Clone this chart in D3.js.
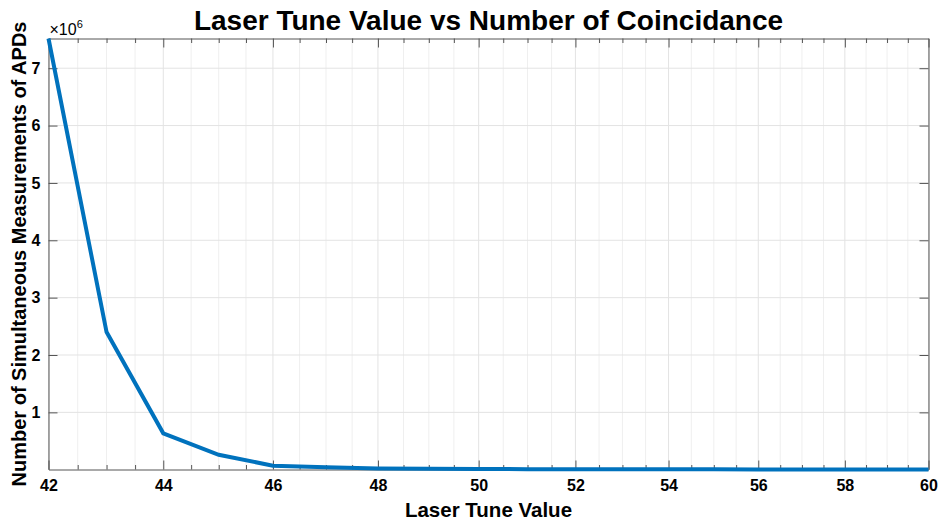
<!DOCTYPE html>
<html>
<head>
<meta charset="utf-8">
<script src="https://cdn.jsdelivr.net/npm/d3@7"></script>
<style>
  body { margin: 0; background: #fff; }
  text { font-family: "Liberation Sans", Arial, sans-serif; font-weight: bold; }
</style>
</head>
<body>
<div id="chart"></div>
<script>
const tuneValues = [42, 43, 44, 45, 46, 47, 48, 49, 50, 51, 52, 53, 54, 55, 56, 57, 58, 59, 60];
const coincidences = [7518000, 2400000, 635000, 260000, 70000, 45000, 22000, 15000, 12000, 10000,
  9000, 8000, 7000, 6500, 6000, 5500, 5000, 4500, 4000];
const xTicks = [42, 44, 46, 48, 50, 52, 54, 56, 58, 60];
const yTicks = [1e6, 2e6, 3e6, 4e6, 5e6, 6e6, 7e6];

const width = 941;
const height = 522;
const margin = { top: 38.5, right: 12.5, bottom: 52.5, left: 48.5 };
const chartWidth = width - margin.left - margin.right;
const chartHeight = height - margin.top - margin.bottom;

const svg = d3.select('#chart').append('svg').attr('width', width).attr('height', height);

const x = d3.scaleLog().domain([42, 60]).range([0, chartWidth]);
const y = d3.scaleLinear().domain(d3.extent(coincidences)).range([chartHeight, 0]);

const minorTicks = d3.range(42, 60.01, 0.5).filter((v) => !xTicks.includes(v));

const chart = svg.append('g').attr('transform', `translate(${margin.left}, ${margin.top})`);

// grid
chart.append('g').selectAll('line').data(minorTicks).enter().append('line')
  .attr('x1', (d) => x(d)).attr('x2', (d) => x(d)).attr('y1', 0).attr('y2', chartHeight)
  .attr('stroke', '#efefef');
chart.append('g').selectAll('line').data(xTicks).enter().append('line')
  .attr('x1', (d) => x(d)).attr('x2', (d) => x(d)).attr('y1', 0).attr('y2', chartHeight)
  .attr('stroke', '#e3e3e3');
chart.append('g').selectAll('line').data(yTicks).enter().append('line')
  .attr('x1', 0).attr('x2', chartWidth).attr('y1', (d) => y(d)).attr('y2', (d) => y(d))
  .attr('stroke', '#e3e3e3');

// axes (ticks pointing inward)
const axisColor = '#555';
const styleAxis = (g) => {
  g.attr('font-size', 16).attr('font-family', null);
  g.select('.domain').attr('stroke', axisColor);
  g.selectAll('.tick line').attr('stroke', axisColor);
  g.selectAll('.tick text').attr('fill', '#000');
};

chart.append('g').attr('transform', `translate(0, ${chartHeight})`)
  .call(d3.axisBottom(x).tickValues(xTicks).tickFormat(d3.format('d')).tickSizeInner(-9).tickSizeOuter(0).tickPadding(10))
  .call(styleAxis);

chart.append('g').attr('transform', `translate(0, ${chartHeight})`)
  .call(d3.axisBottom(x).tickValues(minorTicks).tickFormat('').tickSizeInner(-4.5).tickSizeOuter(0))
  .call(styleAxis).select('.domain').remove();

chart.append('g')
  .call(d3.axisTop(x).tickValues(xTicks).tickFormat('').tickSizeInner(-9).tickSizeOuter(0))
  .call(styleAxis);
chart.append('g')
  .call(d3.axisTop(x).tickValues(minorTicks).tickFormat('').tickSizeInner(-4.5).tickSizeOuter(0))
  .call(styleAxis).select('.domain').remove();

chart.append('g')
  .call(d3.axisLeft(y).tickValues(yTicks).tickFormat((d) => d / 1e6).tickSizeInner(-9).tickSizeOuter(0).tickPadding(8))
  .call(styleAxis);

chart.append('g').attr('transform', `translate(${chartWidth}, 0)`)
  .call(d3.axisRight(y).tickValues(yTicks).tickFormat('').tickSizeInner(-9).tickSizeOuter(0))
  .call(styleAxis);

// data line
const line = d3.line().x((d, i) => x(tuneValues[i])).y((d) => y(d));
chart.append('path').datum(coincidences)
  .attr('d', line)
  .attr('fill', 'none')
  .attr('stroke', '#0072BD')
  .attr('stroke-width', 4);

// exponent label
const expo = svg.append('text').attr('x', margin.left + 1).attr('y', 35)
  .style('font-size', '16px').style('font-weight', 'normal');
expo.append('tspan').text('×10');
expo.append('tspan').style('font-size', '11px').attr('dy', -7).text('6');

// title and labels
svg.append('text').attr('x', margin.left + chartWidth / 2).attr('y', 30)
  .attr('text-anchor', 'middle').attr('font-size', 28).text('Laser Tune Value vs Number of Coincidance');

svg.append('text').attr('x', margin.left + chartWidth / 2).attr('y', 517)
  .attr('text-anchor', 'middle').attr('font-size', 20.5).text('Laser Tune Value');

svg.append('text')
  .attr('transform', `translate(26, ${margin.top + chartHeight / 2}) rotate(-90)`)
  .attr('text-anchor', 'middle').attr('font-size', 20)
  .text('Number of Simultaneous Measurements of APDs');
</script>
</body>
</html>
